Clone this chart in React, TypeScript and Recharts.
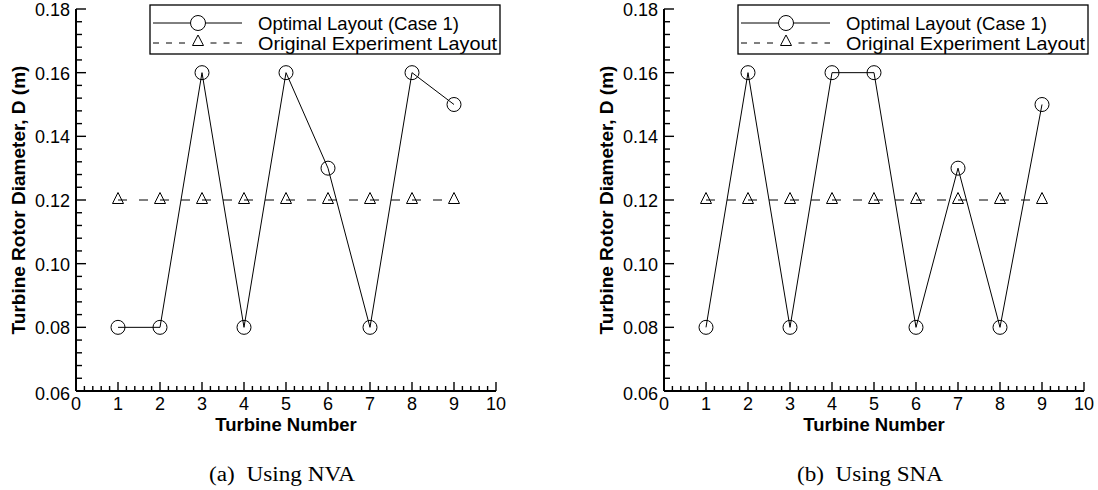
import React from 'react';
import { LineChart, Line, XAxis, YAxis } from 'recharts';

const turbineNumbers = [1, 2, 3, 4, 5, 6, 7, 8, 9];
const optimalNVA = [0.08, 0.08, 0.16, 0.08, 0.16, 0.13, 0.08, 0.16, 0.15];
const optimalSNA = [0.08, 0.16, 0.08, 0.16, 0.16, 0.08, 0.13, 0.08, 0.15];
const originalLayout = [0.12, 0.12, 0.12, 0.12, 0.12, 0.12, 0.12, 0.12, 0.12];

const xMajorTicks = [0, 1, 2, 3, 4, 5, 6, 7, 8, 9, 10];
const xTickLabels = ['0', '1', '2', '3', '4', '5', '6', '7', '8', '9', '10'];
const yMajorTicks = [0.06, 0.08, 0.1, 0.12, 0.14, 0.16, 0.18];
const yTickLabels = ['0.06', '0.08', '0.10', '0.12', '0.14', '0.16', '0.18'];

const legendLabels = ['Optimal Layout (Case 1)', 'Original Experiment Layout'];
const captions = ['(a)  Using NVA', '(b)  Using SNA'];
const xTitle = 'Turbine Number';
const yTitle = 'Turbine Rotor Diameter, D (m)';

const SANS = '"Liberation Sans", Arial, Helvetica, sans-serif';
const SERIF = '"Liberation Serif", "Times New Roman", serif';

const xAllTicks: number[] = [];
for (let i = 0; i < xMajorTicks.length - 1; i++) {
  for (let k = 0; k < 5; k++) xAllTicks.push(xMajorTicks[i] + (k * (xMajorTicks[i + 1] - xMajorTicks[i])) / 5);
}
xAllTicks.push(xMajorTicks[xMajorTicks.length - 1]);

const yAllTicks: number[] = [];
for (let i = 0; i < yMajorTicks.length - 1; i++) {
  for (let k = 0; k < 5; k++) yAllTicks.push(yMajorTicks[i] + (k * (yMajorTicks[i + 1] - yMajorTicks[i])) / 5);
}
yAllTicks.push(yMajorTicks[yMajorTicks.length - 1]);

const buildData = (opt: number[]) =>
  turbineNumbers.map((n, i) => ({ x: n, opt: opt[i], orig: originalLayout[i] }));

const XTick = (props: any) => {
  const { x, y, payload } = props;
  const v = payload.value;
  const idx = xMajorTicks.findIndex((m) => Math.abs(m - v) < 1e-6);
  const major = idx >= 0;
  return (
    <g>
      <line x1={x} x2={x} y1={y} y2={y - (major ? 9 : 5)} stroke="#000" strokeWidth={1.4} />
      {major && (
        <text x={x} y={y + 19} textAnchor="middle" fontFamily={SANS} fontSize={18} fill="#000">
          {xTickLabels[idx]}
        </text>
      )}
    </g>
  );
};

const YTick = (props: any) => {
  const { x, y, payload } = props;
  const v = payload.value;
  const idx = yMajorTicks.findIndex((m) => Math.abs(m - v) < 1e-6);
  const major = idx >= 0;
  return (
    <g>
      <line x1={x} x2={x + (major ? 10 : 6)} y1={y} y2={y} stroke="#000" strokeWidth={1.4} />
      {major && (
        <text x={x - 6} y={y + (idx === 0 ? 8.5 : 7)} textAnchor="end" fontFamily={SANS} fontSize={18} fill="#000">
          {yTickLabels[idx]}
        </text>
      )}
    </g>
  );
};

const CircleDot = (p: any) => {
  if (p.cx == null || p.cy == null) return <g />;
  return <circle cx={p.cx} cy={p.cy} r={7} fill="none" stroke="#000" strokeWidth={1} />;
};

const TriangleDot = (p: any) => {
  if (p.cx == null || p.cy == null) return <g />;
  const { cx, cy } = p;
  return (
    <polygon
      points={`${cx},${cy - 7.5} ${cx - 5.5},${cy + 3.5} ${cx + 5.5},${cy + 3.5}`}
      fill="none"
      stroke="#000"
      strokeWidth={1}
    />
  );
};

const Panel = ({ data, width, marginLeft, marginRight }: any) => (
  <LineChart
    width={width}
    height={440}
    data={data}
    margin={{ top: 9, left: marginLeft - 1, right: marginRight, bottom: 48 }}
  >
    <XAxis
      dataKey="x"
      type="number"
      domain={[0, 10]}
      ticks={xAllTicks}
      interval={0}
      height={1}
      tickSize={0}
      tickMargin={0}
      tickLine={false}
      axisLine={{ stroke: '#000', strokeWidth: 2 }}
      tick={(p: any) => <XTick {...p} />}
      allowDataOverflow
    />
    <YAxis
      type="number"
      domain={[0.06, 0.18]}
      ticks={yAllTicks}
      interval={0}
      width={1}
      tickSize={0}
      tickMargin={0}
      tickLine={false}
      axisLine={{ stroke: '#000', strokeWidth: 2 }}
      tick={(p: any) => <YTick {...p} />}
      allowDataOverflow
    />
    <Line
      dataKey="orig"
      type="linear"
      stroke="#000"
      strokeWidth={1}
      strokeDasharray="9 12"
      dot={(p: any) => <TriangleDot {...p} />}
      activeDot={false}
      isAnimationActive={false}
    />
    <Line
      dataKey="opt"
      type="linear"
      stroke="#000"
      strokeWidth={1}
      dot={(p: any) => <CircleDot {...p} />}
      activeDot={false}
      isAnimationActive={false}
    />
  </LineChart>
);

const Decorations = ({ dx, caption }: { dx: number; caption: string }) => (
  <g transform={`translate(${dx},0)`}>
    {/* legend */}
    <rect x={150} y={5} width={350} height={49} fill="#fff" stroke="#000" strokeWidth={1.3} />
    <line x1={153} x2={190.5} y1={23} y2={23} stroke="#000" strokeWidth={1} />
    <line x1={205.5} x2={242} y1={23} y2={23} stroke="#000" strokeWidth={1} />
    <circle cx={198} cy={23} r={7.5} fill="none" stroke="#000" strokeWidth={1} />
    <line x1={153} x2={186} y1={43} y2={43} stroke="#000" strokeWidth={1} strokeDasharray="6 7" />
    <line x1={210.5} x2={242} y1={43} y2={43} stroke="#000" strokeWidth={1} strokeDasharray="6 7" />
    <polygon points="198,35 192.5,45.5 203.5,45.5" fill="none" stroke="#000" strokeWidth={1} />
    <text x={258} y={29.5} fontFamily={SANS} fontSize={18.5} fill="#000" textLength={201} lengthAdjust="spacingAndGlyphs">
      {legendLabels[0]}
    </text>
    <text x={258} y={49.5} fontFamily={SANS} fontSize={18.5} fill="#000" textLength={239} lengthAdjust="spacingAndGlyphs">
      {legendLabels[1]}
    </text>
    {/* axis titles */}
    <text
      transform="translate(25,200) rotate(-90)"
      textAnchor="middle"
      fontFamily={SANS}
      fontWeight="bold"
      fontSize={19}
      fill="#000"
    >
      {yTitle}
    </text>
    <text x={286} y={431} textAnchor="middle" fontFamily={SANS} fontWeight="bold" fontSize={18.5} fill="#000">
      {xTitle}
    </text>
    <text
      x={282}
      y={481}
      textAnchor="middle"
      fontFamily={SERIF}
      fontSize={20}
      fill="#000"
      textLength={146}
      lengthAdjust="spacingAndGlyphs"
      style={{ whiteSpace: 'pre' }}
    >
      {caption}
    </text>
  </g>
);

export default function App() {
  return (
    <div style={{ position: 'absolute', left: 0, top: 0, width: 1098, height: 490, background: '#fff', overflow: 'hidden' }}>
      <div style={{ position: 'absolute', left: 0, top: 0 }}>
        <Panel data={buildData(optimalNVA)} width={549} marginLeft={76} marginRight={53} />
      </div>
      <div style={{ position: 'absolute', left: 588, top: 0 }}>
        <Panel data={buildData(optimalSNA)} width={510} marginLeft={76} marginRight={14} />
      </div>
      <svg
        width={1098}
        height={490}
        style={{ position: 'absolute', left: 0, top: 0, pointerEvents: 'none' }}
      >
        <Decorations dx={0} caption={captions[0]} />
        <Decorations dx={588} caption={captions[1]} />
      </svg>
    </div>
  );
}
